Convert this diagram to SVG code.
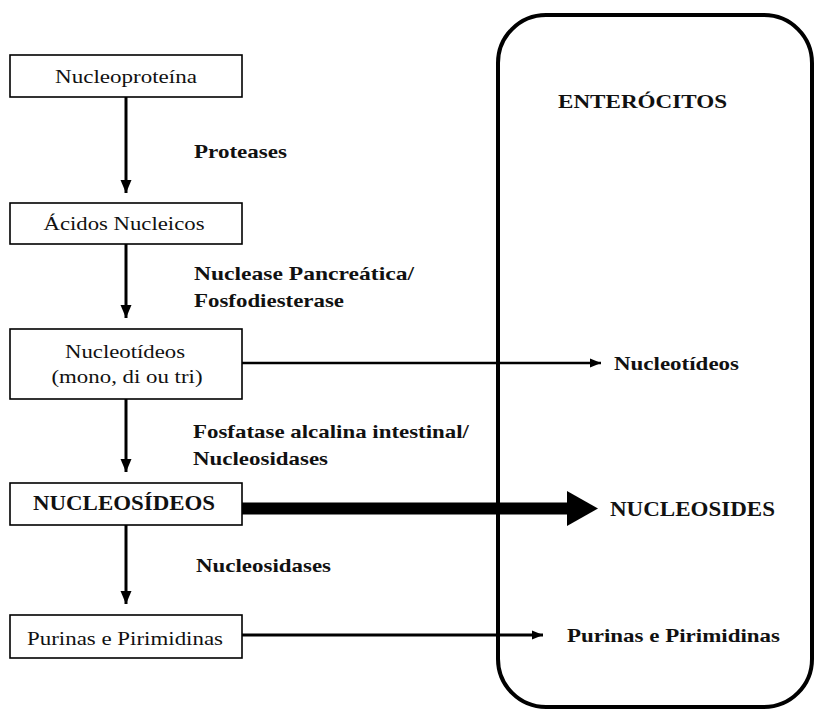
<svg xmlns="http://www.w3.org/2000/svg" width="817" height="709" viewBox="0 0 817 709">
<style>
.box{fill:#fff;stroke:#000;stroke-width:1.6}
.t{font-family:"Liberation Serif","Times New Roman",serif;font-size:19px;fill:#111;text-anchor:middle}
.b{font-family:"Liberation Serif","Times New Roman",serif;font-size:19px;font-weight:bold;fill:#111}
.big{font-family:"Liberation Serif","Times New Roman",serif;font-size:21px;font-weight:bold;fill:#111}
.ln{stroke:#000;stroke-width:3;fill:none}
</style>
<defs>
<marker id="av" markerUnits="userSpaceOnUse" markerWidth="14" markerHeight="12" refX="13" refY="6" orient="auto">
<path d="M0,0.5 L13,6 L0,11.5 z" fill="#000"/>
</marker>
<marker id="ah" markerUnits="userSpaceOnUse" markerWidth="12" markerHeight="10" refX="11" refY="5" orient="auto">
<path d="M0,0.5 L11,5 L0,9.5 z" fill="#000"/>
</marker>
</defs>
<g id="enterocitos">
<rect x="498" y="15" width="314" height="692" rx="48" ry="48" fill="none" stroke="#000" stroke-width="4"/>
<text class="b" x="558" y="108" textLength="169" lengthAdjust="spacingAndGlyphs">ENTERÓCITOS</text>
</g>
<g id="connectors">
<line class="ln" x1="126" y1="97" x2="126" y2="193" marker-end="url(#av)"/>
<line class="ln" x1="126" y1="244" x2="126" y2="318" marker-end="url(#av)"/>
<line class="ln" x1="126" y1="399" x2="126" y2="472" marker-end="url(#av)"/>
<line class="ln" x1="126" y1="525" x2="126" y2="604" marker-end="url(#av)"/>
<line stroke="#000" stroke-width="2.5" x1="242" y1="363" x2="601" y2="363" marker-end="url(#ah)"/>
<line stroke="#000" stroke-width="3" x1="242" y1="635" x2="543" y2="635" marker-end="url(#ah)"/>
<line stroke="#000" stroke-width="12" x1="242" y1="508.5" x2="569" y2="508.5"/>
<polygon points="567,491 598,508.5 567,526" fill="#000"/>
</g>
<g id="labels">
<text class="b" x="194" y="158" textLength="93" lengthAdjust="spacingAndGlyphs">Proteases</text>
<text class="b" x="194" y="280" textLength="220" lengthAdjust="spacingAndGlyphs">Nuclease Pancreática/</text>
<text class="b" x="194" y="307" textLength="150" lengthAdjust="spacingAndGlyphs">Fosfodiesterase</text>
<text class="b" x="193" y="438" textLength="276" lengthAdjust="spacingAndGlyphs">Fosfatase alcalina intestinal/</text>
<text class="b" x="193" y="465" textLength="135" lengthAdjust="spacingAndGlyphs">Nucleosidases</text>
<text class="b" x="196" y="572" textLength="135" lengthAdjust="spacingAndGlyphs">Nucleosidases</text>
<text class="b" x="614" y="370" textLength="125" lengthAdjust="spacingAndGlyphs">Nucleotídeos</text>
<text class="big" x="610" y="516" textLength="165" lengthAdjust="spacingAndGlyphs">NUCLEOSIDES</text>
<text class="b" x="567" y="642" textLength="213" lengthAdjust="spacingAndGlyphs">Purinas e Pirimidinas</text>
</g>
<g id="n1">
<rect class="box" x="10" y="55" width="232" height="42"/>
<text class="t" x="126" y="83" textLength="142" lengthAdjust="spacingAndGlyphs">Nucleoproteína</text>
</g>
<g id="n2">
<rect class="box" x="10" y="203" width="232" height="41"/>
<text class="t" x="124" y="230" textLength="161" lengthAdjust="spacingAndGlyphs">Ácidos Nucleicos</text>
</g>
<g id="n3">
<rect class="box" x="10" y="329" width="232" height="70"/>
<text class="t" x="125" y="358" textLength="120" lengthAdjust="spacingAndGlyphs">Nucleotídeos</text>
<text class="t" x="127" y="383" textLength="151" lengthAdjust="spacingAndGlyphs">(mono, di ou tri)</text>
</g>
<g id="n4">
<rect class="box" x="10" y="483" width="232" height="42"/>
<text class="big" x="124" y="510" text-anchor="middle" textLength="182" lengthAdjust="spacingAndGlyphs">NUCLEOSÍDEOS</text>
</g>
<g id="n5">
<rect class="box" x="10" y="615" width="232" height="43"/>
<text class="t" x="125" y="645" textLength="196" lengthAdjust="spacingAndGlyphs">Purinas e Pirimidinas</text>
</g>
</svg>
